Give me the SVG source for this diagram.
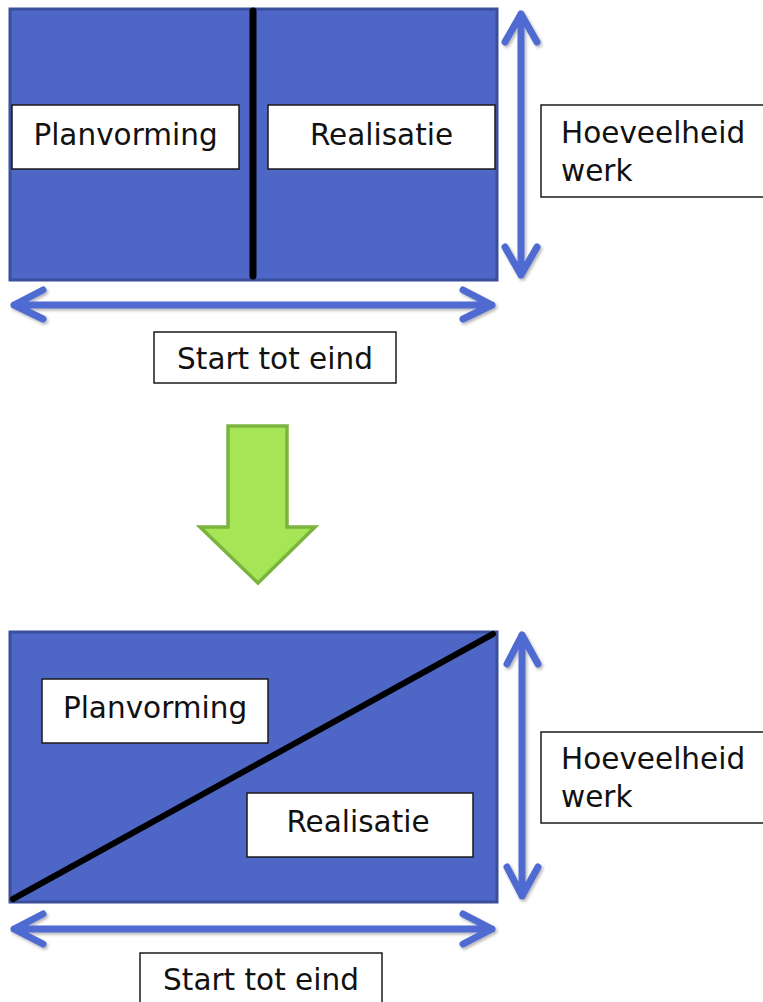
<svg xmlns="http://www.w3.org/2000/svg" width="763" height="1002" viewBox="0 0 763 1002">
<defs>
<style>
.panel{fill:#4e67c7;stroke:#3a4f9c;stroke-width:3}
.div{stroke:#000;stroke-linecap:round;fill:none}
.lbl{fill:#fff;stroke:#1a1a1a;stroke-width:1.5}
.txt{font-family:"DejaVu Sans",Verdana,sans-serif;font-size:29.5px;fill:#111}
.dim{stroke:#4f6ad0;stroke-width:7;fill:none;stroke-linecap:round;stroke-linejoin:round}
</style>
<filter id="sh" x="-10%" y="-10%" width="130%" height="130%">
<feDropShadow dx="1.5" dy="2" stdDeviation="1.5" flood-color="#000" flood-opacity="0.3"/>
</filter>
</defs>
<rect width="763" height="1002" fill="#fff"/>

<g id="top-panel">
<rect class="panel" x="10" y="9" width="487" height="271"/>
<line class="div" x1="253" y1="11" x2="253" y2="276" stroke-width="7" stroke-linecap="butt"/>
</g>
<g id="top-planvorming">
<rect class="lbl" x="12" y="105" width="227" height="64"/>
<text class="txt" x="125.5" y="145" text-anchor="middle">Planvorming</text>
</g>
<g id="top-realisatie">
<rect class="lbl" x="268" y="105" width="227" height="64"/>
<text class="txt" x="381.5" y="145" text-anchor="middle">Realisatie</text>
</g>
<g id="top-hoeveelheid">
<rect class="lbl" x="541" y="105" width="240" height="92"/>
<text class="txt" x="561" y="143">Hoeveelheid</text>
<text class="txt" x="561" y="181">werk</text>
</g>
<g id="top-start">
<rect class="lbl" x="154" y="332" width="242" height="51"/>
<text class="txt" x="275" y="369" text-anchor="middle">Start tot eind</text>
</g>

<g id="transition-arrow">
<path d="M228,426 H287 V527 H315 L258,583 L200,527 H228 Z" fill="#a6e656" stroke="#7ab43e" stroke-width="3.5" stroke-linejoin="miter"/>
</g>

<g id="bottom-panel">
<rect class="panel" x="10" y="632" width="487" height="270"/>
<line class="div" x1="13" y1="899" x2="493" y2="634" stroke-width="6"/>
</g>
<g id="bottom-planvorming">
<rect class="lbl" x="42" y="679" width="226" height="64"/>
<text class="txt" x="155" y="718" text-anchor="middle">Planvorming</text>
</g>
<g id="bottom-realisatie">
<rect class="lbl" x="247" y="793" width="226" height="64"/>
<text class="txt" x="358" y="832" text-anchor="middle">Realisatie</text>
</g>
<g id="bottom-hoeveelheid">
<rect class="lbl" x="541" y="732" width="240" height="91"/>
<text class="txt" x="561" y="769">Hoeveelheid</text>
<text class="txt" x="561" y="807">werk</text>
</g>
<g id="bottom-start">
<rect class="lbl" x="140" y="953" width="242" height="60"/>
<text class="txt" x="261" y="990" text-anchor="middle">Start tot eind</text>
</g>

<g id="connectors" filter="url(#sh)">
<path class="dim" d="M521,14 V275 M505,42 L521,14 L537,42 M505,247 L521,275 L537,247"/>
<path class="dim" d="M14,305 H492 M43,290 L14,305 L43,319 M463,290 L492,305 L463,319"/>
<path class="dim" d="M522,635 V896 M507,664 L522,635 L538,664 M507,867 L522,896 L538,867"/>
<path class="dim" d="M14,929 H492 M43,914 L14,929 L43,944 M463,914 L492,929 L463,944"/>
</g>
</svg>
